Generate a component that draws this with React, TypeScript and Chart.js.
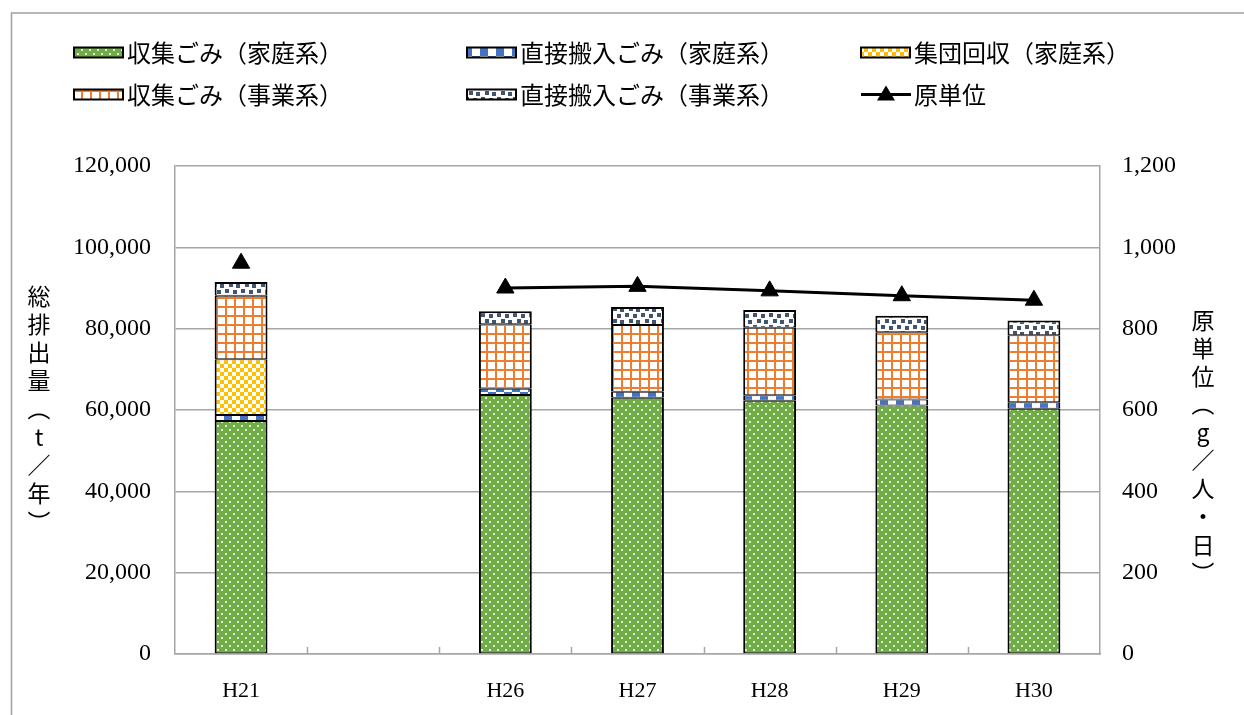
import React, { useEffect, useRef } from "react";
import { Chart, registerables } from "chart.js";

Chart.register(...registerables);

// ---- data ----
const categories = ["H21", "", "H26", "H27", "H28", "H29", "H30"];
const householdCollected = [57300, null, 63700, 63000, 62300, 61100, 60300];
const householdDirect = [1500, null, 1500, 1500, 1300, 1500, 1600];
const groupCollection = [13700, null, null, null, null, null, null];
const businessCollected = [15600, null, 15900, 16400, 16600, 16500, 16500];
const businessDirect = [3400, null, 3200, 4400, 4400, 4100, 3600];
const perCapita = [961, null, 900, 904, 893, 881, 870];

const seriesNames = [
  "収集ごみ（家庭系）",
  "直接搬入ごみ（家庭系）",
  "集団回収（家庭系）",
  "収集ごみ（事業系）",
  "直接搬入ごみ（事業系）",
  "原単位",
];
const leftAxisTitle = "総排出量（t／年）";
const rightAxisTitle = "原単位（g／人・日）";
const leftAxisMax = 120000;
const leftAxisStep = 20000;
const rightAxisMax = 1200;
const rightAxisStep = 200;

const CJK = '"Noto Sans CJK JP", "Noto Sans", sans-serif';
const SERIF = '"Liberation Serif", "DejaVu Serif", serif';
const GRID = "#A6A6A6";

function tile(ctx: CanvasRenderingContext2D, w: number, h: number, draw: (g: CanvasRenderingContext2D) => void) {
  const c = document.createElement("canvas");
  c.width = w;
  c.height = h;
  const g = c.getContext("2d")!;
  draw(g);
  return ctx.createPattern(c, "repeat")!;
}

function makePatterns(ctx: CanvasRenderingContext2D) {
  const green = tile(ctx, 8, 8, (g) => {
    g.fillStyle = "#70AD47";
    g.fillRect(0, 0, 8, 8);
    g.fillStyle = "rgba(255,255,255,0.78)";
    g.fillRect(1, 1, 2, 2);
    g.fillRect(5, 5, 2, 2);
  });
  const blue = tile(ctx, 16, 16, (g) => {
    g.fillStyle = "#FFFFFF";
    g.fillRect(0, 0, 16, 16);
    g.fillStyle = "#4472C4";
    g.fillRect(0, 0, 8, 8);
    g.fillRect(8, 8, 8, 8);
  });
  const yellow = tile(ctx, 8, 8, (g) => {
    g.fillStyle = "#FFFFFF";
    g.fillRect(0, 0, 8, 8);
    g.fillStyle = "#FFC000";
    g.fillRect(0, 0, 4, 4);
    g.fillRect(4, 4, 4, 4);
  });
  const orange = tile(ctx, 9, 9, (g) => {
    g.fillStyle = "#FFFFFF";
    g.fillRect(0, 0, 9, 9);
    g.fillStyle = "#ED7D31";
    g.fillRect(0, 0, 2, 9);
    g.fillRect(0, 0, 9, 2);
  });
  const grey = tile(ctx, 16, 12, (g) => {
    g.fillStyle = "#FFFFFF";
    g.fillRect(0, 0, 16, 12);
    g.fillStyle = "#44546A";
    g.fillRect(1, 1, 4, 4);
    g.fillRect(9, 2, 4, 4);
    g.fillRect(5, 7, 4, 4);
    g.fillRect(12, 8, 4, 4);
  });
  return [green, blue, yellow, orange, grey];
}

function drawVertical(ctx: CanvasRenderingContext2D, text: string, cx: number, startY: number, step: number) {
  Array.from(text).forEach((ch, i) => {
    ctx.save();
    ctx.translate(cx, startY + i * step);
    if (ch === "（" || ch === "）") ctx.rotate(Math.PI / 2);
    ctx.fillText(ch, 0, 0);
    ctx.restore();
  });
}

export default function App() {
  const ref = useRef<HTMLCanvasElement>(null);

  useEffect(() => {
    const canvas = ref.current!;
    const ctx = canvas.getContext("2d")!;
    const patterns = makePatterns(ctx);
    const barSeries = [householdCollected, householdDirect, groupCollection, businessCollected, businessDirect];

    const barDatasets = barSeries.map((data, i) => ({
      type: "bar" as const,
      label: seriesNames[i],
      data,
      backgroundColor: patterns[i],
      borderColor: "#000000",
      borderWidth: { left: 2, right: 2, top: i === 4 ? 2 : 1, bottom: 1 },
      borderSkipped: false as const,
      yAxisID: "y",
      order: 1,
      barPercentage: 0.4,
      categoryPercentage: 1,
    }));

    const frame = {
      id: "frame",
      beforeDraw(chart: any) {
        const c = chart.ctx;
        c.save();
        c.strokeStyle = "#A0A0A0";
        c.lineWidth = 1.5;
        c.strokeRect(11.5, 13, 1260, 740);
        c.restore();
      },
      afterDraw(chart: any) {
        const c = chart.ctx;
        const x = chart.scales.x;
        const area = chart.chartArea;
        c.save();
        // category separators (tick marks pointing up from the axis)
        c.strokeStyle = GRID;
        c.lineWidth = 1.5;
        for (let i = 1; i < categories.length; i++) {
          const px = (x.getPixelForTick(i - 1) + x.getPixelForTick(i)) / 2;
          c.beginPath();
          c.moveTo(Math.round(px) + 0.5, area.bottom);
          c.lineTo(Math.round(px) + 0.5, area.bottom - 7);
          c.stroke();
        }
        // axis titles (vertical)
        c.fillStyle = "#000000";
        c.font = `23px ${CJK}`;
        c.textAlign = "center";
        c.textBaseline = "middle";
        drawVertical(c, leftAxisTitle, 39, 296, 28.25);
        drawVertical(c, rightAxisTitle, 1203, 320, 28.1);

        // legend
        const cols = [74, 467, 861];
        const rows = [52.5, 94.5];
        seriesNames.forEach((name, i) => {
          const col = cols[i % 3];
          const cy = rows[Math.floor(i / 3)];
          if (i < 5) {
            c.fillStyle = patterns[i];
            c.fillRect(col, cy - 5, 49, 10);
            c.strokeStyle = "#000000";
            c.lineWidth = 2;
            c.strokeRect(col, cy - 5, 49, 10);
          } else {
            c.strokeStyle = "#000000";
            c.lineWidth = 3;
            c.beginPath();
            c.moveTo(col, cy);
            c.lineTo(col + 50, cy);
            c.stroke();
            c.fillStyle = "#000000";
            c.beginPath();
            c.moveTo(col + 25, cy - 9);
            c.lineTo(col + 34, cy + 6);
            c.lineTo(col + 16, cy + 6);
            c.closePath();
            c.fill();
          }
          c.fillStyle = "#000000";
          c.font = `24px ${CJK}`;
          c.textAlign = "left";
          c.textBaseline = "middle";
          c.fillText(name, col + 53, cy);
        });
        c.restore();
      },
    };

    const chart = new Chart(ctx, {
      type: "bar",
      data: {
        labels: categories,
        datasets: [
          ...barDatasets,
          {
            type: "line" as const,
            label: seriesNames[5],
            data: perCapita,
            yAxisID: "y1",
            order: 0,
            borderColor: "#000000",
            backgroundColor: "#000000",
            borderWidth: 3,
            pointStyle: "triangle",
            pointRadius: 10,
            pointBorderWidth: 1,
            pointBackgroundColor: "#000000",
            pointBorderColor: "#000000",
            spanGaps: false,
            tension: 0,
          },
        ] as any,
      },
      options: {
        responsive: false,
        animation: false,
        events: [],
        layout: { padding: { top: 166, left: 0, right: 0, bottom: 0 } },
        plugins: { legend: { display: false }, tooltip: { enabled: false } },
        scales: {
          x: {
            stacked: true,
            offset: true,
            grid: { display: false },
            border: { display: true, color: GRID, width: 1.5 },
            ticks: {
              color: "#000000",
              font: { family: SERIF, size: 22 },
              padding: 16,
              maxRotation: 0,
              autoSkip: false,
            },
            afterFit: (s: any) => {
              s.height = 61;
            },
          },
          y: {
            stacked: true,
            position: "left",
            min: 0,
            max: leftAxisMax,
            ticks: {
              stepSize: leftAxisStep,
              color: "#000000",
              font: { family: SERIF, size: 24 },
              padding: 24,
              callback: (v: any) => Number(v).toLocaleString("en-US"),
            },
            grid: { color: GRID, lineWidth: 1.5, drawTicks: false },
            border: { display: true, color: GRID, width: 1.5 },
            afterFit: (s: any) => {
              s.width = 175;
            },
          },
          y1: {
            position: "right",
            min: 0,
            max: rightAxisMax,
            ticks: {
              stepSize: rightAxisStep,
              color: "#000000",
              font: { family: SERIF, size: 24 },
              padding: 22,
              callback: (v: any) => Number(v).toLocaleString("en-US"),
            },
            grid: { drawOnChartArea: false, drawTicks: false },
            border: { display: true, color: GRID, width: 1.5 },
            afterFit: (s: any) => {
              s.width = 144;
            },
          },
        },
      } as any,
      plugins: [frame],
    });

    return () => chart.destroy();
  }, []);

  return (
    <div style={{ position: "fixed", left: 0, top: 0, width: 1244, height: 715, background: "#FFFFFF" }}>
      <canvas ref={ref} width={1244} height={715} style={{ display: "block" }} />
    </div>
  );
}
